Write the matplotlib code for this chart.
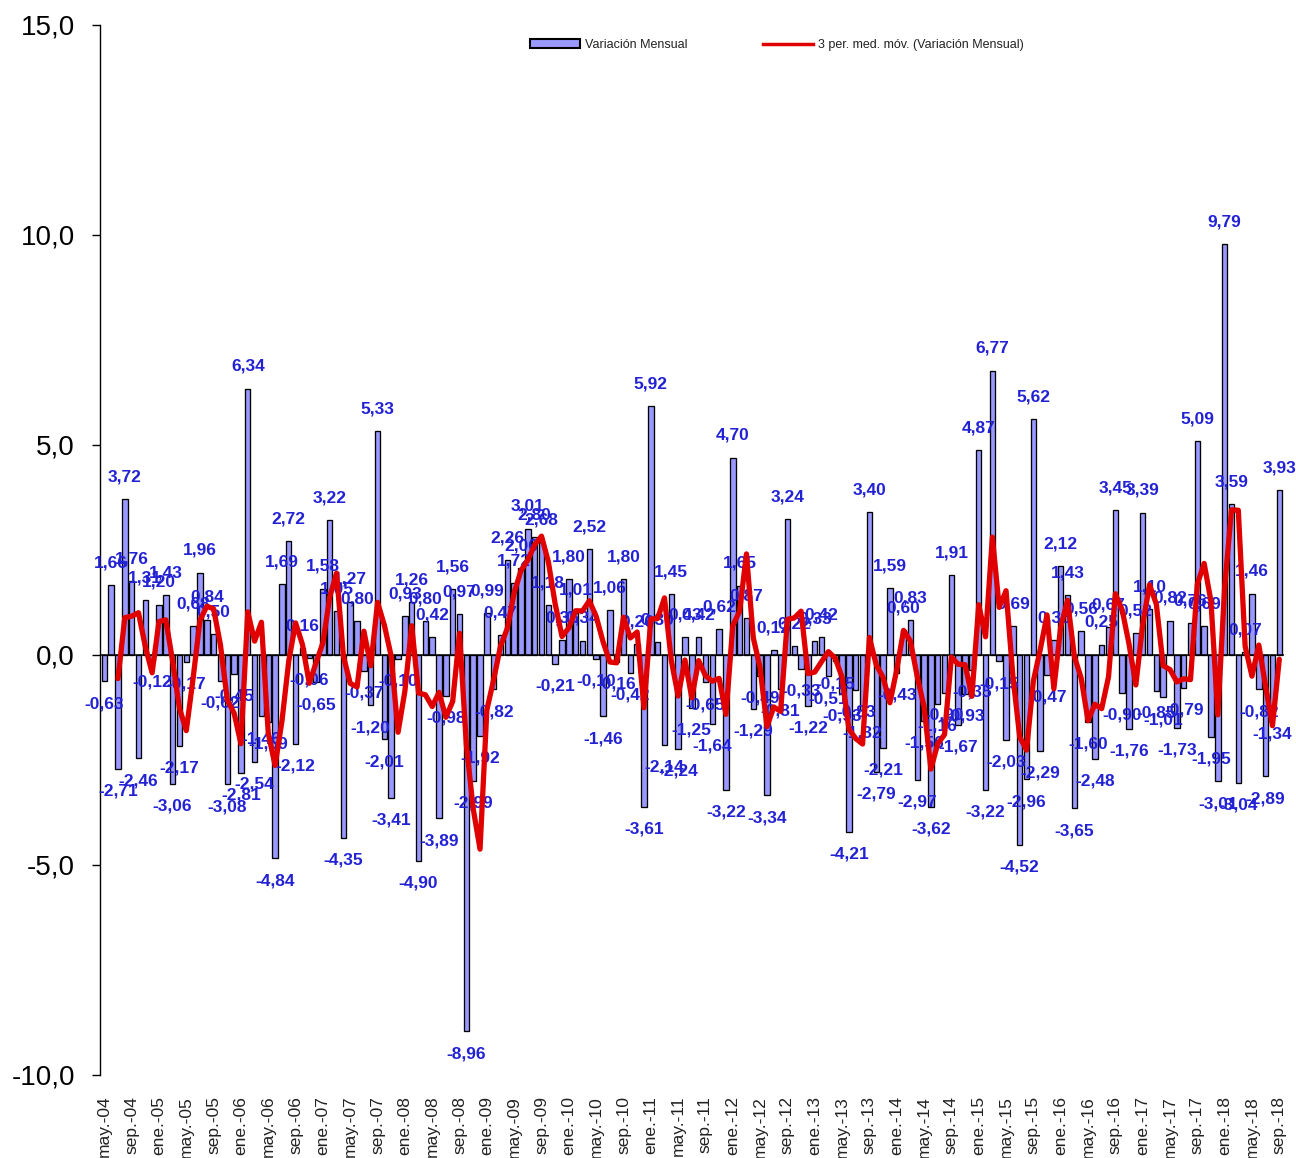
import numpy as np
import pandas as pd
import matplotlib
matplotlib.use('Agg')
import matplotlib.pyplot as plt
from matplotlib.patches import Patch
from matplotlib.lines import Line2D

plt.rcParams['font.family'] = ['Liberation Sans', 'DejaVu Sans']

# Variación mensual (%), mayo 2004 - septiembre 2018
variacion = [
    -0.63, 1.66, -2.71, 3.72, 1.76, -2.46, 1.31, -0.12,            # may-04 .. dic-04
    1.20, 1.43, -3.06, -2.17, -0.17, 0.68, 1.96, 0.84, 0.50, -0.62, -3.08, -0.45,   # 2005
    -2.81, 6.34, -2.54, -1.46, -1.59, -4.84, 1.69, 2.72, -2.12, 0.16, -0.06, -0.65,  # 2006
    1.58, 3.22, 1.05, -4.35, 1.27, 0.80, -0.37, -1.20, 5.33, -2.01, -3.41, -0.10,    # 2007
    0.93, 1.26, -4.90, 0.80, 0.42, -3.89, -0.98, 1.56, 0.97, -8.96, -2.99, -1.92,    # 2008
    0.99, -0.82, 0.47, 2.26, 1.72, 2.06, 3.01, 2.80, 2.68, 1.18, -0.21, 0.35,        # 2009
    1.80, 1.01, 0.34, 2.52, -0.10, -1.46, 1.06, -0.16, 1.80, -0.42, 0.26, -3.61,     # 2010
    5.92, 0.30, -2.14, 1.45, -2.24, 0.43, -1.25, 0.42, -0.65, -1.64, 0.62, -3.22,    # 2011
    4.70, 1.65, 0.87, -1.29, -0.49, -3.34, 0.12, -0.81, 3.24, 0.22, -0.33, -1.22,    # 2012
    0.33, 0.42, -0.51, -0.15, -0.93, -4.21, -0.83, -1.32, 3.40, -2.79, -2.21, 1.59,  # 2013
    -0.43, 0.60, 0.83, -2.97, -1.56, -3.62, -1.16, -0.90, 1.91, -1.67, -0.93, -0.35, # 2014
    4.87, -3.22, 6.77, -0.15, -2.03, 0.69, -4.52, -2.96, 5.62, -2.29, -0.47, 0.35,   # 2015
    2.12, 1.43, -3.65, 0.56, -1.60, -2.48, 0.25, 0.67, 3.45, -0.90, -1.76, 0.52,     # 2016
    3.39, 1.10, -0.85, -1.01, 0.82, -1.73, -0.79, 0.76, 5.09, 0.69, -1.95, -3.01,    # 2017
    9.79, 3.59, -3.04, 0.07, 1.46, -0.82, -2.89, -1.34, 3.93,                        # 2018
]

meses_abrev = ['ene.', 'feb.', 'mar.', 'abr.', 'may.', 'jun.',
               'jul.', 'ago.', 'sep.', 'oct.', 'nov.', 'dic.']
periodos = pd.period_range('2004-05', '2018-09', freq='M')
etiquetas_x = [f"{meses_abrev[p.month - 1]}-{p.year % 100:02d}" for p in periodos][::4]

y_ticks = [-10, -5, 0, 5, 10, 15]

def fmt(v):
    return f"{v:.2f}".replace('.', ',')

fig = plt.figure(figsize=(12.96, 11.58), dpi=100)
ax = fig.add_axes([100 / 1296, 83 / 1158, 1183.6 / 1296, 1050 / 1158])

x = np.arange(len(variacion))
ax.bar(x, variacion, width=0.8, color='#9999FF', edgecolor='black',
       linewidth=0.95, zorder=2)
ax.axhline(0, color='black', lw=1.1, zorder=3)

# media movil de 3 periodos (como la linea de tendencia de Excel)
media = pd.Series(variacion).rolling(3).mean()
ax.plot(x, media, color='#E00000', lw=3.8, solid_joinstyle='round',
        solid_capstyle='round', zorder=5)

for xi, v in zip(x, variacion):
    off = 16 if v >= 0 else -16
    ax.annotate(fmt(v), (xi, v), xytext=(0, off), textcoords='offset points',
                ha='center', va='center', fontsize=12.5, fontweight='bold',
                color='#2222D4', zorder=4)

ax.set_xlim(-0.63, len(variacion) - 1 + 0.63)
ax.set_ylim(-10, 15)
ax.set_yticks(y_ticks)
ax.set_yticklabels([f"{t:.1f}".replace('.', ',') for t in y_ticks])
ax.tick_params(axis='y', direction='out', length=6, width=1, labelsize=20, pad=12)
ax.set_xticks(x[::4])
ax.set_xticklabels(etiquetas_x, rotation=90, fontsize=12.5, color='#222222')
ax.tick_params(axis='x', length=0, pad=15)

for s in ['top', 'right', 'bottom']:
    ax.spines[s].set_visible(False)
ax.spines['left'].set_linewidth(1)

handles = [Patch(facecolor='#9999FF', edgecolor='black', linewidth=1.5),
           Line2D([0], [0], color='#E00000', lw=2.5)]
leg = ax.legend(handles, ['Variación Mensual', '3 per. med. móv. (Variación Mensual)'],
                loc='center left', bbox_to_anchor=(530 / 1296, 1 - 45 / 1158),
                bbox_transform=fig.transFigure, ncol=2, frameon=False, fontsize=9,
                handlelength=4, handleheight=0.7, handletextpad=0.4,
                columnspacing=6.0, borderpad=0, borderaxespad=0)
for t in leg.get_texts():
    t.set_color('#222222')

fig.savefig('out.png', dpi=100)
